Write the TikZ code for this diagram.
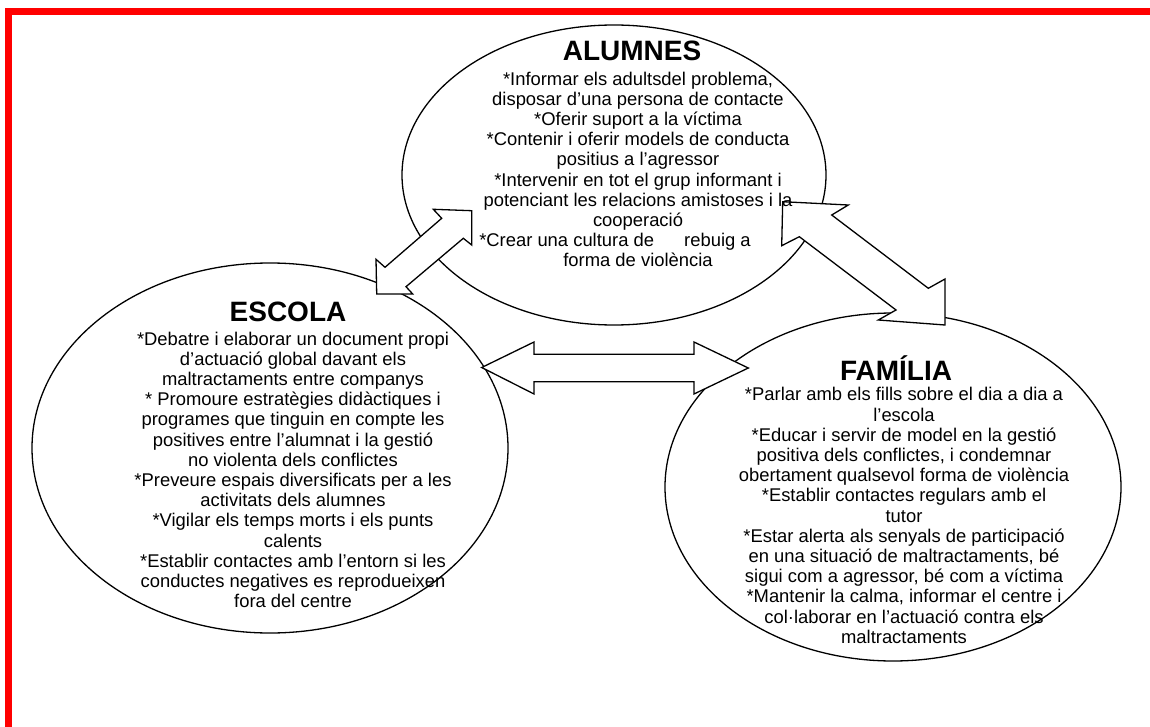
\documentclass[tikz,border=0pt]{standalone}
\usepackage{fontspec}
\setmainfont{Liberation Sans}
\usetikzlibrary{shapes.geometric}

\begin{document}
\begin{tikzpicture}[x = 1pt, y = -1pt]
\tikzstyle{EllipseStyle}=[shape = ellipse, draw, line width = 1.3pt,
                          inner sep = 0pt]
\tikzstyle{ArrowStyle}=[draw, fill = white, line width = 1.3pt,
                        line join = miter]
\tikzstyle{TitleStyle}=[anchor = base, inner sep = 0pt,
                        font = \fontsize{28}{30}\selectfont\bfseries]
\tikzstyle{TextStyle}=[anchor = north, inner sep = 0pt, align = center,
                       font = \fontsize{18.4}{20.2}\selectfont]
\useasboundingbox (0,0) rectangle (1150,727);
\fill[red] (5,8) rectangle (1150,15);
\fill[red] (5,8) rectangle (12,727);
\node[EllipseStyle, minimum width = 424pt, minimum height = 300pt] (alumnes) at (614,175) {};
\node[EllipseStyle, minimum width = 476pt, minimum height = 370pt] (escola) at (270,448) {};
\node[EllipseStyle, minimum width = 456pt, minimum height = 348pt] (familia) at (893,487) {};
\draw[ArrowStyle] (471.7,210.7) -- (433.3,209.3) -- (441.7,218.3) -- (385,267.3)
  -- (376,259.3) -- (376.7,294) -- (412.7,294) -- (406,286.7) -- (463.3,238.3)
  -- (471.7,245) -- cycle;
\draw[ArrowStyle] (782.7,201.7) -- (848.3,205) -- (831.7,215) -- (928.3,288.3)
  -- (945,279) -- (945,325) -- (878.3,320) -- (896,310) -- (799.3,236.7)
  -- (781.7,245.7) -- cycle;
\draw[ArrowStyle] (481.7,367.5) -- (534,342) -- (534,354.3) -- (694,354.3)
  -- (694,342) -- (748.3,368) -- (694,394) -- (694,381.7) -- (534,381.7)
  -- (534,394) -- cycle;
\node[TitleStyle] (t1) at (632,61) {ALUMNES};
\node[TitleStyle] (t2) at (288,321) {ESCOLA};
\node[TitleStyle] (t3) at (896,380) {FAMÍLIA};
\node[TextStyle] (x1) at (638,71.6) {*Informar els adultsdel problema,\\
  disposar d’una persona de contacte\\
  *Oferir suport a la víctima\\
  *Contenir i oferir models de conducta\\
  positius a l’agressor\\
  *Intervenir en tot el grup informant i\\
  potenciant les relacions amistoses i la\\
  cooperació\\
  *Crear una cultura de\hspace{25pt} rebuig a\makebox[46pt]{}\\
  forma de violència};
\node[TextStyle] (x2) at (293,331.6) {*Debatre i elaborar un document propi\\
  d’actuació global davant els\\
  maltractaments entre companys\\
  * Promoure estratègies didàctiques i\\
  programes que tinguin en compte les\\
  positives entre l’alumnat i la gestió\\
  no violenta dels conflictes\\
  *Preveure espais diversificats per a les\\
  activitats dels alumnes\\
  *Vigilar els temps morts i els punts\\
  calents\\
  *Establir contactes amb l’entorn si les\\
  conductes negatives es reprodueixen\\
  fora del centre};
\node[TextStyle] (x3) at (904,387.3) {*Parlar amb els fills sobre el dia a dia a\\
  l’escola\\
  *Educar i servir de model en la gestió\\
  positiva dels conflictes, i condemnar\\
  obertament qualsevol forma de violència\\
  *Establir contactes regulars amb el\\
  tutor\\
  *Estar alerta als senyals de participació\\
  en una situació de maltractaments, bé\\
  sigui com a agressor, bé com a víctima\\
  *Mantenir la calma, informar el centre i\\
  col·laborar en l’actuació contra els\\
  maltractaments};
\end{tikzpicture}
\end{document}
